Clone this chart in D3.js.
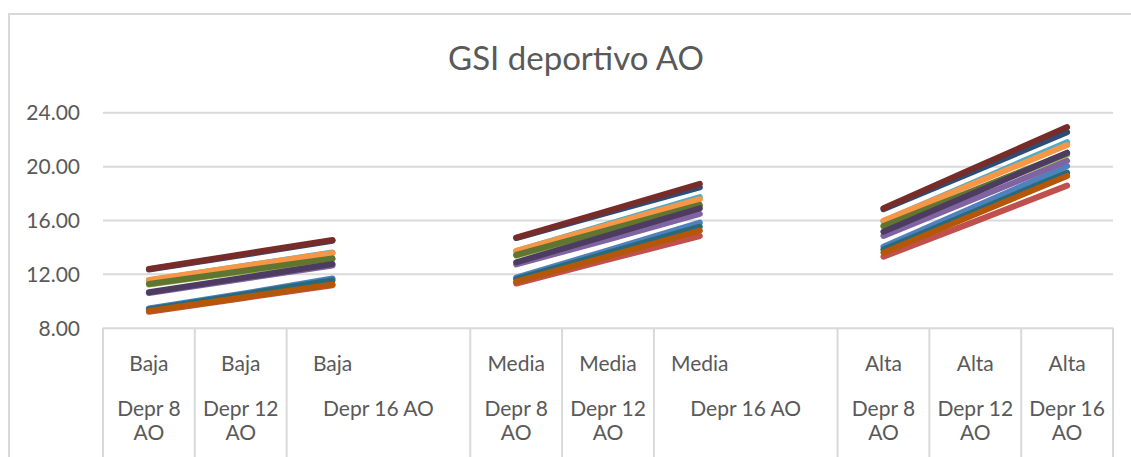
<!DOCTYPE html>
<html>
<head>
<meta charset="utf-8">
<style type="text/css">
    body { margin: 0; background: #ffffff; }
    text { font-family: Lato, "Open Sans", sans-serif; fill: #595959; }
</style>
</head>
<body>
<svg width="1131" height="457"></svg>
<script type="text/javascript" src="https://cdn.jsdelivr.net/npm/d3@7/dist/d3.min.js"></script>
<script type="text/javascript">

    // categorias (vacias = separadores entre grupos)
    const nivel = ["Baja", "Baja", "Baja", "", "Media", "Media", "Media", "", "Alta", "Alta", "Alta"];
    const depr = ["Depr 8 AO", "Depr 12 AO", "Depr 16 AO", "", "Depr 8 AO", "Depr 12 AO", "Depr 16 AO", "",
                  "Depr 8 AO", "Depr 12 AO", "Depr 16 AO"];
    const yTicks = [8, 12, 16, 20, 24];

    // series (Office 2007 palette order)
    const s1 = [9.42, 10.50, 11.65, null, 11.72, 13.75, 15.80, null, 14.02, 17.00, 20.01];
    const s2 = [9.18, 10.17, 11.15, null, 11.28, 13.05, 14.81, null, 13.27, 15.90, 18.55];
    const s3 = [11.20, 12.13, 13.08, null, 13.35, 15.20, 17.05, null, 15.50, 18.15, 20.85];
    const s4 = [10.58, 11.60, 12.62, null, 12.70, 14.55, 16.45, null, 14.82, 17.60, 20.40];
    const s5 = [11.50, 12.55, 13.58, null, 13.68, 15.70, 17.70, null, 15.90, 18.85, 21.78];
    const s6 = [11.55, 12.55, 13.55, null, 13.70, 15.62, 17.55, null, 15.95, 18.75, 21.57];
    const s7 = [12.32, 13.38, 14.46, null, 14.66, 16.55, 18.43, null, 16.80, 19.65, 22.52];
    const s8 = [12.36, 13.44, 14.52, null, 14.69, 16.68, 18.68, null, 16.88, 19.90, 22.90];
    const s9 = [11.25, 12.20, 13.15, null, 13.40, 15.26, 17.12, null, 15.56, 18.25, 20.95];
    const s10 = [10.63, 11.68, 12.73, null, 12.86, 14.86, 16.87, null, 15.13, 18.05, 21.00];
    const s11 = [9.35, 10.43, 11.52, null, 11.60, 13.55, 15.50, null, 13.80, 16.65, 19.52];
    const s12 = [9.24, 10.23, 11.22, null, 11.42, 13.30, 15.21, null, 13.57, 16.42, 19.27];

    const series = [s1, s2, s3, s4, s5, s6, s7, s8, s9, s10, s11, s12];
    const colores = ["#4F81BD", "#C0504D", "#9BBB59", "#8064A2", "#4BACC6", "#F79646",
                     "#2C4D75", "#772C2A", "#5F7530", "#4D3B62", "#276A7C", "#B65708"];

    var svg = d3.select("svg"),
        plotLeft = 103, plotRight = 1113, plotTop = 112.3, plotBottom = 327.7;

    // marco del grafico
    svg.append("rect")
        .attr("x", 9).attr("y", 14)
        .attr("width", 1140).attr("height", 460)
        .attr("fill", "none")
        .attr("stroke", "#d9d9d9")
        .attr("stroke-width", 2);

    // titulo
    svg.append("text")
        .attr("x", 576).attr("y", 70)
        .attr("text-anchor", "middle")
        .style("font-size", "33px")
        .text("GSI deportivo AO");

    var x = d3.scaleBand().domain(d3.range(nivel.length)).range([plotLeft, plotRight]);
    var y = d3.scaleLinear().domain([8, 24]).range([plotBottom, plotTop]);

    // lineas de cuadricula + etiquetas eje Y
    var yAxis = svg.append("g")
        .attr("transform", "translate(" + plotLeft + ",0)")
        .call(d3.axisLeft(y).tickValues(yTicks).tickFormat(d3.format(".2f"))
            .tickSize(-(plotRight - plotLeft)).tickPadding(23));
    yAxis.select(".domain").remove();
    yAxis.selectAll("line").attr("stroke", "#d9d9d9").attr("stroke-width", 2);
    yAxis.selectAll("text")
        .style("font-size", "21px")
        .style("font-family", "Lato, 'Open Sans', sans-serif")
        .attr("fill", "#595959")
        .attr("dy", "0.36em");

    // eje X: lineas divisorias (se omiten antes de una categoria vacia)
    var bordes = [0];
    nivel.forEach(function(d, i) {
        if (i < nivel.length - 1 && nivel[i + 1] === "") return;
        bordes.push(i + 1);
    });
    svg.append("g").selectAll("line")
        .data(bordes)
        .enter().append("line")
        .attr("x1", function(d) { return d < nivel.length ? x(d) : plotRight; })
        .attr("x2", function(d) { return d < nivel.length ? x(d) : plotRight; })
        .attr("y1", plotBottom).attr("y2", 457)
        .attr("stroke", "#d9d9d9")
        .attr("stroke-width", 2);

    // etiquetas de categoria
    var bw = x.bandwidth();
    var etiquetas = svg.append("g");
    nivel.forEach(function(d, i) {
        if (d === "") return;
        var cx = x(i) + bw / 2;
        etiquetas.append("text")
            .attr("x", cx).attr("y", 370.5)
            .attr("text-anchor", "middle")
            .style("font-size", "21px")
            .text(d);
        var ancho = (i + 1 < nivel.length && nivel[i + 1] === "") ? 2 * bw : bw;
        var cx2 = x(i) + ancho / 2;
        var t = etiquetas.append("text")
            .attr("x", cx2).attr("y", 416)
            .attr("text-anchor", "middle")
            .style("font-size", "21px")
            .text(depr[i]);
        if (t.node().getComputedTextLength() > ancho - 8) {
            var partes = depr[i].split(" ");
            var ult = partes.pop();
            t.text(partes.join(" "));
            etiquetas.append("text")
                .attr("x", cx2).attr("y", 440)
                .attr("text-anchor", "middle")
                .style("font-size", "21px")
                .text(ult);
        }
    });

    // lineas de las series
    var linea = d3.line()
        .defined(function(d) { return d !== null; })
        .x(function(d, i) { return x(i) + bw / 2; })
        .y(function(d) { return y(d); });

    svg.append("g").selectAll("path")
        .data(series)
        .enter().append("path")
        .attr("d", linea)
        .attr("fill", "none")
        .attr("stroke", function(d, i) { return colores[i]; })
        .attr("stroke-width", 6)
        .attr("stroke-linecap", "round")
        .attr("stroke-linejoin", "round");

</script>
</body>
</html>
